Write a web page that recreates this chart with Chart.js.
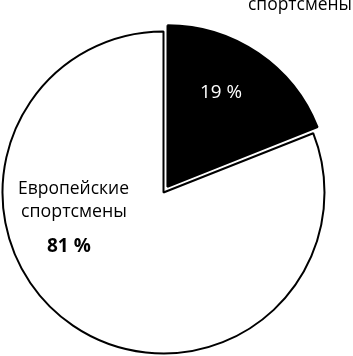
<!DOCTYPE html>
<html>
<head>
<meta charset="utf-8">
<script src="https://cdn.jsdelivr.net/npm/chart.js@4"></script>
<style>
  html, body { margin: 0; padding: 0; background: #fff; }
  #wrap { width: 353px; height: 356px; }
</style>
</head>
<body>
<div id="wrap"><canvas id="chartPie"></canvas></div>
<script>
// ===== DATOS =====
const categories = ['Неевропейские спортсмены', 'Европейские спортсмены'];
const values = [19, 81];
const pctLabels = ['19 %', '81 %'];
const sliceColors = ['#000000', '#ffffff'];

const FONT = '"Open Sans", "Noto Sans", sans-serif';

// etiquetas dibujadas a mano (texto, no marcas)
const labelPlugin = {
    id: 'pieLabels',
    afterDraw(chart) {
        const ctx = chart.ctx;
        ctx.save();
        ctx.textAlign = 'left';
        ctx.textBaseline = 'alphabetic';
        ctx.font = '19px ' + FONT;
        // etiqueta superior (la primera línea queda fuera del lienzo)
        ctx.fillStyle = '#000';
        const top = categories[0].split(' ');
        ctx.fillText(top[0], 232, -14, 130);
        ctx.fillText(top[1], 248, 10, 104);
        // 19 %
        ctx.fillStyle = '#fff';
        ctx.fillText(pctLabels[0], 200, 98, 42);
        // Европейские спортсмены
        ctx.fillStyle = '#000';
        const eu = categories[1].split(' ');
        ctx.fillText(eu[0], 18, 194, 111);
        ctx.fillText(eu[1], 21, 217, 106);
        ctx.font = 'bold 19px ' + FONT;
        ctx.fillText(pctLabels[1], 47, 252, 44);
        ctx.restore();
    }
};

new Chart(document.getElementById('chartPie').getContext('2d'), {
    type: 'pie',
    data: {
        labels: categories,
        datasets: [{
            data: values,
            backgroundColor: sliceColors,
            borderColor: '#000',
            borderWidth: 2,
            offset: [28, 0],
            radius: 161
        }]
    },
    options: {
        responsive: true,
        maintainAspectRatio: false,
        animation: false,
        layout: { padding: { left: 0, right: 26, top: 29, bottom: 0 } },
        plugins: { legend: { display: false }, tooltip: { enabled: false } }
    },
    plugins: [labelPlugin]
});
</script>
</body>
</html>
